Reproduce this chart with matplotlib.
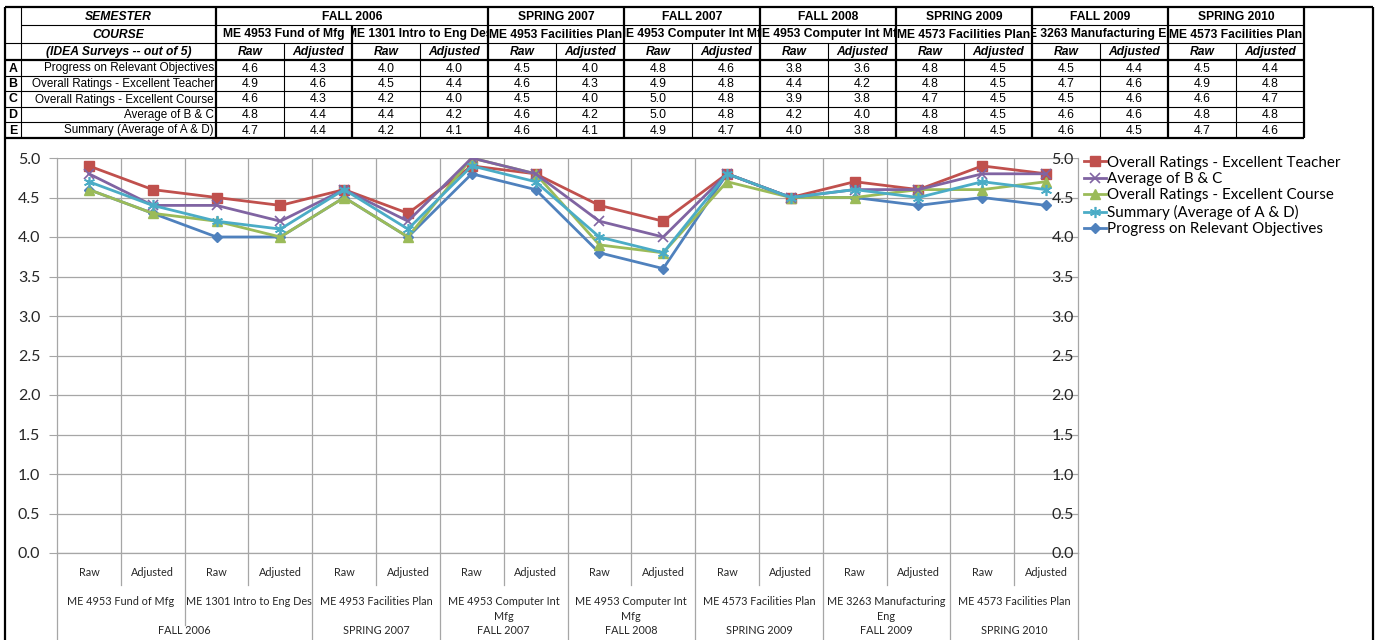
import matplotlib
matplotlib.use("Agg")
import matplotlib.pyplot as plt
from matplotlib.lines import Line2D
from matplotlib.transforms import Bbox, blended_transform_factory
import numpy as np

# ---------------- data ----------------
semesters = ["FALL 2006", "SPRING 2007", "FALL 2007", "FALL 2008",
             "SPRING 2009", "FALL 2009", "SPRING 2010"]
courses_per_semester = [2, 1, 1, 1, 1, 1, 1]
courses = ["ME 4953 Fund of Mfg", "ME 1301 Intro to Eng Des", "ME 4953 Facilities Plan",
           "ME 4953 Computer Int Mfg", "ME 4953 Computer Int Mfg", "ME 4573 Facilities Plan",
           "ME 3263 Manufacturing Eng", "ME 4573 Facilities Plan"]
chart_course_labels = ["ME 4953 Fund of Mfg", "ME 1301 Intro to Eng Des", "ME 4953 Facilities Plan",
                       "ME 4953 Computer Int\nMfg", "ME 4953 Computer Int\nMfg", "ME 4573 Facilities Plan",
                       "ME 3263 Manufacturing\nEng", "ME 4573 Facilities Plan"]
kinds = ["Raw", "Adjusted"]
row_letters = ["A", "B", "C", "D", "E"]
row_labels = ["Progress on Relevant Objectives", "Overall Ratings - Excellent Teacher",
              "Overall Ratings - Excellent Course", "Average of B & C",
              "Summary (Average of A & D)"]

progress = [4.6, 4.3, 4.0, 4.0, 4.5, 4.0, 4.8, 4.6, 3.8, 3.6, 4.8, 4.5, 4.5, 4.4, 4.5, 4.4]
teacher  = [4.9, 4.6, 4.5, 4.4, 4.6, 4.3, 4.9, 4.8, 4.4, 4.2, 4.8, 4.5, 4.7, 4.6, 4.9, 4.8]
course_r = [4.6, 4.3, 4.2, 4.0, 4.5, 4.0, 5.0, 4.8, 3.9, 3.8, 4.7, 4.5, 4.5, 4.6, 4.6, 4.7]
avg_bc   = [4.8, 4.4, 4.4, 4.2, 4.6, 4.2, 5.0, 4.8, 4.2, 4.0, 4.8, 4.5, 4.6, 4.6, 4.8, 4.8]
summary  = [4.7, 4.4, 4.2, 4.1, 4.6, 4.1, 4.9, 4.7, 4.0, 3.8, 4.8, 4.5, 4.6, 4.5, 4.7, 4.6]

series_rows = [progress, teacher, course_r, avg_bc, summary]

yticks = [0.0, 0.5, 1.0, 1.5, 2.0, 2.5, 3.0, 3.5, 4.0, 4.5, 5.0]

# ---------------- figure ----------------
W, H = 1378, 640
fig = plt.figure(figsize=(W / 100, H / 100), dpi=100)
fig.patch.set_facecolor("white")

def fx(x): return x / W
def fy(y): return 1 - y / H

THICK = 1.6
THIN = 0.8

def hline(y, x0, x1, lw=THIN, color="black"):
    fig.add_artist(Line2D([fx(x0), fx(x1)], [fy(y), fy(y)], lw=lw, color=color,
                          transform=fig.transFigure, solid_capstyle="butt"))

def vline(x, y0, y1, lw=THIN, color="black"):
    fig.add_artist(Line2D([fx(x), fx(x)], [fy(y0), fy(y1)], lw=lw, color=color,
                          transform=fig.transFigure, solid_capstyle="butt"))

TFONT = ["Liberation Sans", "DejaVu Sans"]
CFONT = ["Lato", "DejaVu Sans"]

def ctext(x, y, s, x0=None, x1=None, y0=None, y1=None, **kw):
    t = fig.text(fx(x), fy(y), s, **kw)
    if x0 is not None:
        t.set_clip_box(Bbox.from_extents(x0, H - y1, x1, H - y0))
        t.set_clip_on(True)
    return t

# ---------------- table ----------------
LEFT, LETTER_R, LABEL_R = 5, 21, 216
COLW = 68
ncols = 2 * len(courses)
col_x = [LABEL_R + COLW * i for i in range(ncols + 1)]
TABLE_R = col_x[-1]
row_y = [7, 25, 43, 60, 76, 91, 107, 122, 138]
FRAME_R = 1373
FS = 8.4

# frame
hline(row_y[0], LEFT, FRAME_R, THICK)
vline(LEFT, row_y[0], H, THICK)
vline(FRAME_R, row_y[0], H, THICK)

hline(row_y[1], LETTER_R, TABLE_R, THIN)
hline(row_y[2], LEFT, TABLE_R, THIN)
hline(row_y[3], LEFT, TABLE_R, THICK)
for y in row_y[4:8]:
    hline(y, LEFT, TABLE_R, THIN)
hline(row_y[8], LEFT, TABLE_R, THICK)
vline(LETTER_R, row_y[0], row_y[8], THIN)
vline(LABEL_R, row_y[0], row_y[8], THICK)

# semester / course boundaries
ci = 0
sem_bounds = [0]
course_bounds = []
for n in courses_per_semester:
    for k in range(n):
        course_bounds.append(ci)
        ci += 1
    sem_bounds.append(ci)
for c in sem_bounds[1:]:
    vline(col_x[2 * c], row_y[0], row_y[8], THICK)
for c in course_bounds:
    if c not in sem_bounds:
        vline(col_x[2 * c], row_y[1], row_y[8], THICK)
for c in range(len(courses)):
    vline(col_x[2 * c + 1], row_y[2], row_y[8], THIN)

def mid(a, b): return (a + b) / 2

hdr = dict(ha="center", va="center", fontsize=FS + 0.3, fontweight="bold", family=TFONT)
ctext(mid(LETTER_R, LABEL_R), mid(row_y[0], row_y[1]) + 0.5, "SEMESTER", style="italic", **hdr)
ctext(mid(LETTER_R, LABEL_R), mid(row_y[1], row_y[2]) + 0.5, "COURSE", style="italic", **hdr)
ctext(mid(LETTER_R, LABEL_R), mid(row_y[2], row_y[3]) + 0.5, "(IDEA Surveys -- out of 5)", style="italic", **hdr)

for s, name in enumerate(semesters):
    a, b = col_x[2 * sem_bounds[s]], col_x[2 * sem_bounds[s + 1]]
    ctext(mid(a, b), mid(row_y[0], row_y[1]) + 0.5, name, **hdr)
for c, name in enumerate(courses):
    a, b = col_x[2 * c], col_x[2 * c + 2]
    ctext(mid(a, b), mid(row_y[1], row_y[2]) + 0.5, name, x0=a + 1, x1=b - 1,
          y0=row_y[1], y1=row_y[2], **hdr)
for j in range(ncols):
    ctext(mid(col_x[j], col_x[j + 1]), mid(row_y[2], row_y[3]) + 0.5, kinds[j % 2],
          style="italic", **hdr)

for r in range(5):
    yc = mid(row_y[3 + r], row_y[4 + r]) + 0.5
    ctext(mid(LEFT, LETTER_R), yc, row_letters[r], ha="center", va="center",
          fontsize=FS + 0.5, fontweight="bold", family=TFONT)
    ctext(LABEL_R - 2, yc, row_labels[r], ha="right", va="center", fontsize=FS,
          family=TFONT, x0=LETTER_R, x1=LABEL_R, y0=row_y[3 + r], y1=row_y[4 + r])
    for j in range(ncols):
        ctext(mid(col_x[j], col_x[j + 1]), yc, f"{series_rows[r][j]:.1f}",
              ha="center", va="center", fontsize=FS + 0.4, family=TFONT)

# ---------------- chart ----------------
AX_L, AX_R, AX_T, AX_B = 57, 1078, 158, 553
ax = fig.add_axes([fx(AX_L), fy(AX_B), (AX_R - AX_L) / W, (AX_B - AX_T) / H])
n = len(progress)
xs = np.arange(n) + 0.5
ax.set_xlim(0, n)
ax.set_ylim(0, 5)
GRID = "#A6A6A6"
TXT = "#262626"

ax.set_yticks(yticks)
ax.set_yticklabels([f"{v:.1f}" for v in yticks], family=CFONT, fontsize=11.5, color=TXT)
ax.tick_params(axis="y", direction="out", length=6, color=GRID, width=0.8, pad=6)
ax.set_xticks([])
ax.yaxis.grid(True, color=GRID, lw=0.9)
ax.vlines(np.arange(1, n), 0, 5, color=GRID, lw=0.9, zorder=0.5)
for sp in ["left", "right", "bottom"]:
    ax.spines[sp].set_color(GRID)
    ax.spines[sp].set_linewidth(0.9)
ax.spines["top"].set_visible(False)
ax.set_axisbelow(True)

ax2 = ax.twinx()
ax2.set_ylim(0, 5)
ax2.set_yticks(yticks)
ax2.set_yticklabels([f"{v:.1f}" for v in yticks], family=CFONT, fontsize=11.5, color=TXT)
ax2.tick_params(axis="y", direction="in", length=0, pad=-3)
for lab in ax2.get_yticklabels():
    lab.set_horizontalalignment("right")
for sp in ax2.spines.values():
    sp.set_visible(False)

C_BLUE, C_RED, C_GREEN, C_PURPLE, C_CYAN = "#4F81BD", "#C0504D", "#9BBB59", "#8064A2", "#4BACC6"
lw = 2.0
lA, = ax.plot(xs, progress, color=C_BLUE, lw=lw, marker="D", ms=5, mfc=C_BLUE, mec=C_BLUE,
              label="Progress on Relevant Objectives", zorder=3)
lB, = ax.plot(xs, teacher, color=C_RED, lw=lw, marker="s", ms=7, mfc=C_RED, mec=C_RED,
              label="Overall Ratings - Excellent Teacher", zorder=3)
lC, = ax.plot(xs, course_r, color=C_GREEN, lw=lw, marker="^", ms=7.5, mfc=C_GREEN, mec=C_GREEN,
              label="Overall Ratings - Excellent Course", zorder=3)
lD, = ax.plot(xs, avg_bc, color=C_PURPLE, lw=lw, marker="x", ms=7, mew=1.2, mec=C_PURPLE,
              label="Average of B & C", zorder=3)
lE, = ax.plot(xs, summary, color=C_CYAN, lw=lw, marker=(6, 2, 0), ms=8, mew=1.2, mec=C_CYAN,
              label="Summary (Average of A & D)", zorder=3)

leg = fig.legend(handles=[lB, lD, lC, lE, lA], loc="upper left",
                 bbox_to_anchor=(fx(1073), fy(145)), frameon=False,
                 prop={"family": CFONT, "size": 10.9}, handlelength=1.45,
                 handletextpad=0.12, labelspacing=0.16, borderpad=0.2)
for t in leg.get_texts():
    t.set_color("black")

# category axis labels (multi-level)
tr = blended_transform_factory(ax.transData, fig.transFigure)
CAT_FS = 7.8
for j in range(n):
    ax.text(xs[j], fy(573), kinds[j % 2], transform=tr, ha="center", va="center",
            fontsize=CAT_FS, family=CFONT, color=TXT, clip_on=False)
for c, name in enumerate(chart_course_labels):
    ax.text(2 * c + 1, fy(596), name, transform=tr, ha="center", va="top",
            fontsize=CAT_FS, family=CFONT, color=TXT, linespacing=1.4, clip_on=False)
for s, name in enumerate(semesters):
    a, b = 2 * sem_bounds[s], 2 * sem_bounds[s + 1]
    ax.text((a + b) / 2, fy(631), name, transform=tr, ha="center", va="center",
            fontsize=CAT_FS, family=CFONT, color=TXT, clip_on=False)

def sep(xd, y1):
    ax.add_line(Line2D([xd, xd], [fy(AX_B), fy(y1)], transform=tr, color=GRID, lw=0.9,
                       clip_on=False))
for j in range(1, n, 2):
    sep(j, 585)
for c in course_bounds:
    if c not in sem_bounds:
        sep(2 * c, 625)
for c in sem_bounds:
    sep(2 * c, H)

fig.savefig("out.png", dpi=100, facecolor="white")
